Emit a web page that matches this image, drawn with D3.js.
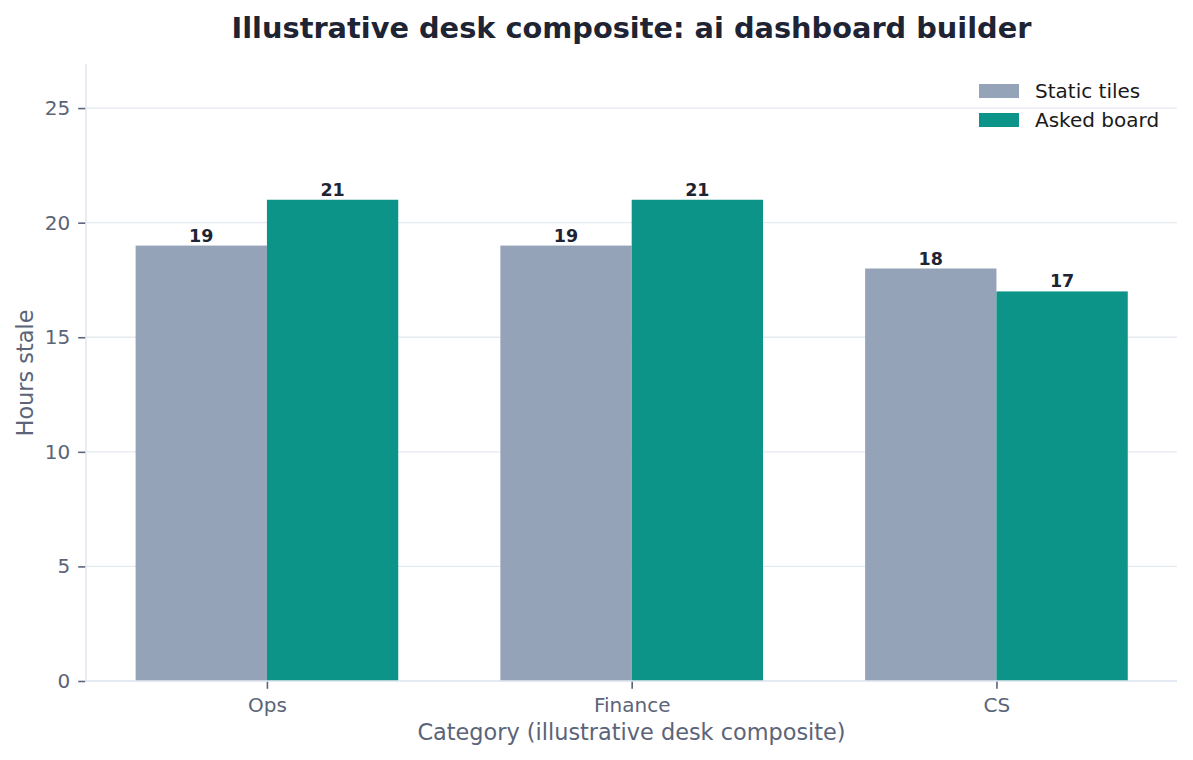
<!DOCTYPE html>
<html>
<head>
<meta charset="utf-8">
<script src="https://cdn.jsdelivr.net/npm/d3@7"></script>
<style>
  html, body { margin: 0; padding: 0; background: #ffffff; }
  svg { display: block; font-family: "DejaVu Sans", sans-serif; }
</style>
</head>
<body>
<svg id="chart" width="1193" height="760"></svg>
<script>
const categories = ["Ops", "Finance", "CS"];
const seriesNames = ["Static tiles", "Asked board"];
const staticTiles = [19, 19, 18];
const askedBoard = [21, 21, 17];
const yTicks = [0, 5, 10, 15, 20, 25];
const titleText = "Illustrative desk composite: ai dashboard builder";
const xLabel = "Category (illustrative desk composite)";
const yLabel = "Hours stale";
const colors = ["#94a3b8", "#0d9488"];

const W = 1193, H = 760;
const m = { left: 86, right: 1177, top: 65, bottom: 681 };
const svg = d3.select("#chart");

const x = d3.scaleLinear().domain([-0.496, categories.length - 0.505]).range([m.left, m.right]);
const yMax = d3.max([...staticTiles, ...askedBoard]) * 1.28;
const y = d3.scaleLinear().domain([0, yMax]).range([m.bottom, m.top]);
const barW = 0.36;

// grid
svg.append("g").selectAll("line").data(yTicks).join("line")
  .attr("x1", m.left).attr("x2", m.right)
  .attr("y1", d => y(d)).attr("y2", d => y(d))
  .attr("stroke", "#e5e9f0").attr("stroke-width", 1.4);

const series = [staticTiles, askedBoard];
series.forEach((vals, s) => {
  const g = svg.append("g");
  g.selectAll("rect").data(vals).join("rect")
    .attr("x", (d, i) => x(i - barW + s * barW))
    .attr("width", (d, i) => x(i + s * barW) - x(i - barW + s * barW))
    .attr("y", d => y(d))
    .attr("height", d => y(0) - y(d))
    .attr("fill", colors[s]);
  g.selectAll("text").data(vals).join("text")
    .attr("x", (d, i) => x(i - barW / 2 + s * barW))
    .attr("y", d => y(d) - 4)
    .attr("text-anchor", "middle")
    .attr("font-size", 17.5).attr("font-weight", "bold")
    .attr("fill", "#1e2433")
    .text(d => d);
});

// spines
svg.append("line").attr("x1", m.left).attr("x2", m.left).attr("y1", m.top - 1).attr("y2", m.bottom)
  .attr("stroke", "#e2e8f0").attr("stroke-width", 1.6);
svg.append("line").attr("x1", m.left).attr("x2", m.right).attr("y1", m.bottom).attr("y2", m.bottom)
  .attr("stroke", "#e2e8f0").attr("stroke-width", 1.6);

// y axis
const yAxis = d3.axisLeft(y).tickValues(yTicks).tickSize(7).tickPadding(8);
const yg = svg.append("g").attr("transform", `translate(${m.left - 0.8},0)`).call(yAxis);
yg.select(".domain").remove();
yg.selectAll(".tick line").attr("stroke", "#5b6478").attr("stroke-width", 1.6);
yg.selectAll(".tick text").attr("fill", "#5b6478").attr("font-size", 20)
  .attr("font-family", "DejaVu Sans");

// x axis
const xAxis = d3.axisBottom(x).tickValues(d3.range(categories.length)).tickFormat(i => categories[i]).tickSize(7).tickPadding(9);
const xg = svg.append("g").attr("transform", `translate(0,${m.bottom + 0.8})`).call(xAxis);
xg.select(".domain").remove();
xg.selectAll(".tick line").attr("stroke", "#5b6478").attr("stroke-width", 1.6);
xg.selectAll(".tick text").attr("fill", "#5b6478").attr("font-size", 20)
  .attr("font-family", "DejaVu Sans");

// title
svg.append("text").attr("x", (m.left + m.right) / 2).attr("y", 38)
  .attr("text-anchor", "middle").attr("font-size", 28.8).attr("font-weight", "bold")
  .attr("fill", "#1e2433").text(titleText);

// axis labels
svg.append("text").attr("x", (m.left + m.right) / 2).attr("y", 740)
  .attr("text-anchor", "middle").attr("font-size", 22.4).attr("fill", "#5b6478").text(xLabel);
svg.append("text").attr("transform", `translate(33,${(m.top + m.bottom) / 2}) rotate(-90)`)
  .attr("text-anchor", "middle").attr("font-size", 22.4).attr("fill", "#5b6478").text(yLabel);

// legend
const lg = svg.append("g").attr("transform", "translate(979,84)");
seriesNames.forEach((name, i) => {
  lg.append("rect").attr("x", 0).attr("y", i * 29).attr("width", 40).attr("height", 14).attr("fill", colors[i]);
  lg.append("text").attr("x", 56).attr("y", i * 29 + 14).attr("font-size", 20)
    .attr("fill", "#1a1a1a").text(name);
});
</script>
</body>
</html>
